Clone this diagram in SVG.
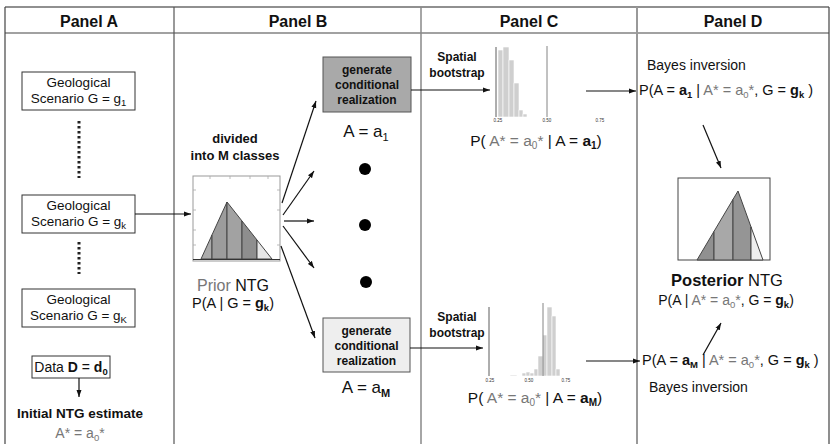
<svg xmlns="http://www.w3.org/2000/svg" width="832" height="444" viewBox="0 0 832 444">
<style>
text{font-family:"Liberation Sans",Arial,sans-serif;fill:#111}
.hd{font-size:16px;font-weight:bold;text-anchor:middle}
.bx{font-size:13.5px;text-anchor:middle}
.gb{font-size:12px;font-weight:bold;text-anchor:middle}
.g{fill:#777}
.b{font-weight:bold}
.tk{font-size:4.5px;text-anchor:middle;fill:#333}
.box{fill:#fff;stroke:#333;stroke-width:1}
.ar{stroke:#111;stroke-width:1.2;fill:none;marker-end:url(#ah)}
.seg{stroke:#444;stroke-width:1}
.bar{fill:#cfcfcf;stroke:#fff;stroke-width:0.6}
</style>
<defs>
<marker id="ah" markerUnits="userSpaceOnUse" markerWidth="8" markerHeight="6" refX="7" refY="3" orient="auto"><path d="M0,0.5 L7,3 L0,5.5 z" fill="#111"/></marker>
</defs>
<rect width="832" height="444" fill="#fff"/>
<g id="frame" fill="none">
<line x1="5" y1="7" x2="829" y2="7" stroke="#222" stroke-width="1.2"/>
<line x1="5" y1="33" x2="829" y2="33" stroke="#444" stroke-width="1.2"/>
<line x1="5" y1="7" x2="5" y2="444" stroke="#444" stroke-width="1.2"/>
<line x1="829" y1="7" x2="829" y2="444" stroke="#444" stroke-width="1.2"/>
<line x1="174" y1="7" x2="174" y2="444" stroke="#555" stroke-width="1.2"/>
<line x1="421" y1="7" x2="421" y2="444" stroke="#888" stroke-width="1.5"/>
<line x1="637" y1="7" x2="637" y2="444" stroke="#999" stroke-width="2"/>
</g>
<g id="headers">
<text class="hd" x="89" y="27">Panel A</text>
<text class="hd" x="298" y="27">Panel B</text>
<text class="hd" x="529" y="27">Panel C</text>
<text class="hd" x="733" y="27">Panel D</text>
</g>
<g id="scenario1">
<rect class="box" x="22" y="72" width="113" height="38"/>
<text class="bx" x="78.5" y="87">Geological</text>
<text class="bx" x="78.5" y="103">Scenario G = g<tspan font-size="9.5" dy="3">1</tspan></text>
</g>
<g id="dots1"><line x1="79" y1="121" x2="79" y2="178" stroke="#222" stroke-width="3" stroke-dasharray="2.5 2.5"/></g>
<g id="scenariok">
<rect class="box" x="22" y="195" width="113" height="38"/>
<text class="bx" x="78.5" y="210">Geological</text>
<text class="bx" x="78.5" y="226">Scenario G = g<tspan font-size="9.5" dy="3">k</tspan></text>
</g>
<g id="dots2"><line x1="79" y1="242" x2="79" y2="274" stroke="#222" stroke-width="3" stroke-dasharray="2.5 2.5"/></g>
<g id="scenarioK">
<rect class="box" x="22" y="289" width="113" height="38"/>
<text class="bx" x="78.5" y="304">Geological</text>
<text class="bx" x="78.5" y="320">Scenario G = g<tspan font-size="9.5" dy="3">K</tspan></text>
</g>
<g id="data">
<rect class="box" x="32" y="356" width="78" height="22"/>
<text x="71" y="372" font-size="14" text-anchor="middle">Data <tspan class="b">D</tspan> = <tspan class="b">d</tspan><tspan class="b" font-size="9.5" dy="3">0</tspan></text>
</g>
<g id="initial">
<text x="80" y="418" font-size="13.5" font-weight="bold" text-anchor="middle">Initial NTG estimate</text>
<text x="80" y="438" font-size="14" text-anchor="middle" class="g">A* = a<tspan font-size="9.5" dy="3">0</tspan><tspan dy="-3">*</tspan></text>
</g>
<g id="prior">
<text x="235" y="143" font-size="13" font-weight="bold" text-anchor="middle">divided</text>
<text x="235" y="160" font-size="13" font-weight="bold" text-anchor="middle">into M classes</text>
<rect x="193" y="176" width="87" height="85" fill="#fff" stroke="#999" stroke-width="1"/>
<path d="M193,190h3M193,210h3M193,230h3M193,245h3M277,190h3M277,210h3M277,245h3M210,176v3M230,176v3M250,176v3M268,176v3" stroke="#aaa" stroke-width="0.8"/>
<polygon class="seg" fill="#ababab" points="201,259 212,259 212,234.9"/>
<polygon class="seg" fill="#9c9c9c" points="212,259 227,259 227,202 212,234.9"/>
<polygon class="seg" fill="#a2a2a2" points="227,259 242,259 242,221 227,202"/>
<polygon class="seg" fill="#8e8e8e" points="242,259 257,259 257,240 242,221"/>
<polygon class="seg" fill="#e6e6e6" points="257,259 272,259 257,240"/>
<line x1="193" y1="259.5" x2="280" y2="259.5" stroke="#333" stroke-width="1"/>
<text x="233" y="291" font-size="16" text-anchor="middle"><tspan class="g">Prior</tspan> NTG</text>
<text x="233" y="308" font-size="14.5" text-anchor="middle">P(A | G = <tspan class="b">g</tspan><tspan class="b" font-size="9.5" dy="3">k</tspan><tspan dy="-3">)</tspan></text>
</g>
<g id="gen1">
<rect x="323" y="57" width="88" height="55" fill="#a9a9a9" stroke="#555" stroke-width="1"/>
<text class="gb" x="367" y="74">generate</text>
<text class="gb" x="367" y="89">conditional</text>
<text class="gb" x="367" y="104">realization</text>
<text x="366" y="137" font-size="17" text-anchor="middle">A = a<tspan font-size="11" dy="4">1</tspan></text>
</g>
<g id="ellipsis">
<circle cx="365" cy="169" r="6" fill="#000"/>
<circle cx="365" cy="225" r="6" fill="#000"/>
<circle cx="366" cy="282" r="6" fill="#000"/>
</g>
<g id="genM">
<rect x="323" y="318" width="87" height="54" fill="#eeeeee" stroke="#555" stroke-width="1"/>
<text class="gb" x="366.5" y="335">generate</text>
<text class="gb" x="366.5" y="350">conditional</text>
<text class="gb" x="366.5" y="365">realization</text>
<text x="366" y="393" font-size="17" text-anchor="middle">A = a<tspan font-size="11" dy="4" font-weight="bold">M</tspan></text>
</g>
<g id="hist1">
<text class="gb" x="457" y="61">Spatial</text>
<text class="gb" x="457" y="77">bootstrap</text>
<rect class="bar" x="498" y="50" width="5" height="67"/>
<rect class="bar" x="503" y="47" width="6" height="70"/>
<rect class="bar" x="509" y="60" width="5" height="57"/>
<rect class="bar" x="514" y="83" width="5" height="34"/>
<rect class="bar" x="519" y="110" width="4" height="7"/>
<rect class="bar" x="523" y="114" width="4" height="3"/>
<line x1="496" y1="47" x2="496" y2="117" stroke="#333" stroke-width="0.8"/>
<line x1="547" y1="46" x2="547" y2="117" stroke="#666" stroke-width="0.8"/>
<text class="tk" x="498" y="122">0.25</text>
<text class="tk" x="547" y="122">0.50</text>
<text class="tk" x="600" y="122">0.75</text>
<text x="536" y="146" font-size="15.5" text-anchor="middle">P( <tspan class="g">A* = a</tspan><tspan class="g" font-size="10" dy="3">0</tspan><tspan class="g" dy="-3">*</tspan> | A = <tspan class="b">a</tspan><tspan class="b" font-size="10" dy="3">1</tspan><tspan dy="-3">)</tspan></text>
</g>
<g id="hist2">
<text class="gb" x="457" y="321">Spatial</text>
<text class="gb" x="457" y="337">bootstrap</text>
<rect class="bar" x="510" y="375" width="7" height="1"/>
<rect class="bar" x="522" y="373" width="4" height="3"/>
<rect class="bar" x="526" y="372" width="4" height="4"/>
<rect class="bar" x="530" y="373" width="4" height="3"/>
<rect class="bar" x="534" y="369" width="4" height="7"/>
<rect class="bar" x="538" y="356" width="5" height="20"/>
<rect class="bar" x="543" y="335" width="4" height="41"/>
<rect class="bar" x="547" y="307" width="5" height="69"/>
<rect class="bar" x="552" y="316" width="4" height="60"/>
<rect class="bar" x="556" y="369" width="4" height="7"/>
<line x1="489" y1="307" x2="489" y2="376" stroke="#333" stroke-width="0.8"/>
<line x1="543" y1="303" x2="543" y2="376" stroke="#666" stroke-width="0.8"/>
<text class="tk" x="490" y="382">0.25</text>
<text class="tk" x="529" y="382">0.50</text>
<text class="tk" x="566" y="382">0.75</text>
<text x="535" y="403" font-size="15.5" text-anchor="middle">P( <tspan class="g">A* = a</tspan><tspan class="g" font-size="10" dy="3">0</tspan><tspan class="g" dy="-3">*</tspan> | A = <tspan class="b">a</tspan><tspan class="b" font-size="10" dy="3">M</tspan><tspan dy="-3">)</tspan></text>
</g>
<g id="bayes1">
<text x="647" y="70" font-size="14" fill="#222">Bayes inversion</text>
<text x="639" y="95" font-size="14.5">P(A = <tspan class="b">a</tspan><tspan class="b" font-size="9.5" dy="3">1</tspan><tspan dy="-3"> | </tspan><tspan class="g">A* = a</tspan><tspan class="g" font-size="9.5" dy="3">0</tspan><tspan class="g" dy="-3">*</tspan>, G = <tspan class="b">g</tspan><tspan class="b" font-size="9.5" dy="3">k</tspan><tspan dy="-3"> )</tspan></text>
</g>
<g id="posterior">
<rect x="678" y="178" width="92" height="82" fill="#fff" stroke="#444" stroke-width="1"/>
<polygon class="seg" fill="#909090" points="697,260 714,260 714,231.4"/>
<polygon class="seg" fill="#a8a8a8" points="714,260 733,260 733,199.4 714,231.4"/>
<polygon class="seg" fill="#959595" points="733,260 751,260 751,226.9 738,191 733,199.4"/>
<polygon class="seg" fill="#eeeeee" points="751,260 763,260 751,226.9"/>
<text x="727" y="286" font-size="16.5" text-anchor="middle"><tspan class="b">Posterior</tspan> NTG</text>
<text x="726" y="305" font-size="14" text-anchor="middle">P(A | <tspan class="g">A* = a</tspan><tspan class="g" font-size="9.5" dy="3">0</tspan><tspan class="g" dy="-3">*</tspan>, G = <tspan class="b">g</tspan><tspan class="b" font-size="9.5" dy="3">k</tspan><tspan dy="-3">)</tspan></text>
</g>
<g id="bayesM">
<text x="642" y="365" font-size="14.5">P(A = <tspan class="b">a</tspan><tspan class="b" font-size="9.5" dy="3">M</tspan><tspan dy="-3"> | </tspan><tspan class="g">A* = a</tspan><tspan class="g" font-size="9.5" dy="3">0</tspan><tspan class="g" dy="-3">*</tspan>, G = <tspan class="b">g</tspan><tspan class="b" font-size="9.5" dy="3">k</tspan><tspan dy="-3"> )</tspan></text>
<text x="649" y="392" font-size="14" fill="#222">Bayes inversion</text>
</g>
<g id="connectors">
<line class="ar" x1="79" y1="378" x2="79" y2="397"/>
<line class="ar" x1="135" y1="214" x2="191" y2="214"/>
<line class="ar" x1="282" y1="203" x2="316" y2="101"/>
<line class="ar" x1="283" y1="215" x2="314" y2="171"/>
<line class="ar" x1="284" y1="221" x2="314" y2="221"/>
<line class="ar" x1="283" y1="226" x2="314" y2="268"/>
<line class="ar" x1="281" y1="246" x2="315" y2="338"/>
<line class="ar" x1="411" y1="90" x2="490" y2="90"/>
<line class="ar" x1="410" y1="348" x2="483" y2="348"/>
<line class="ar" x1="586" y1="91" x2="636" y2="91"/>
<line class="ar" x1="586" y1="361" x2="640" y2="361"/>
<line class="ar" x1="703" y1="125" x2="721" y2="168"/>
<line class="ar" x1="703" y1="355" x2="721" y2="323"/>
</g>
</svg>
